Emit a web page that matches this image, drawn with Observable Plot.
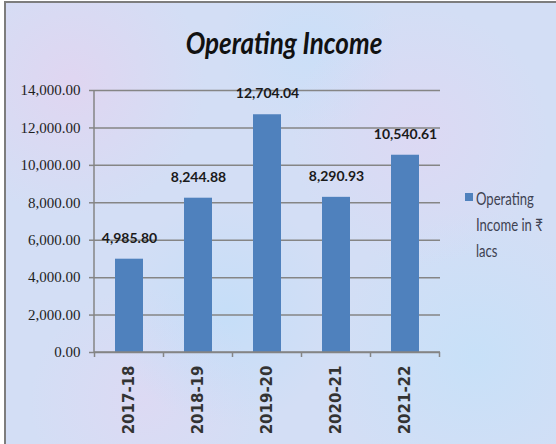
<!DOCTYPE html>
<html>
<head>
<meta charset="utf-8">
<script src="https://cdn.jsdelivr.net/npm/d3@7"></script>
<script src="https://cdn.jsdelivr.net/npm/@observablehq/plot@0.6"></script>
<style>
  html, body { margin: 0; padding: 0; background: #ffffff; }
  #wrap {
    position: absolute; left: 4px; top: 1px; width: 552px; height: 443px;
    border-top: 2px solid #7d7d7d; border-left: 2px solid #7d7d7d;
    background-color: #d3def5;
    background-image:
      radial-gradient(circle at 12% 18%, rgba(232,208,238,0.6) 0, rgba(232,208,238,0) 22%),
      radial-gradient(circle at 40% 70%, rgba(188,222,250,0.6) 0, rgba(188,222,250,0) 25%),
      radial-gradient(circle at 75% 30%, rgba(228,212,242,0.55) 0, rgba(228,212,242,0) 25%),
      radial-gradient(circle at 85% 80%, rgba(192,226,250,0.6) 0, rgba(192,226,250,0) 25%),
      radial-gradient(circle at 25% 90%, rgba(228,214,242,0.55) 0, rgba(228,214,242,0) 20%),
      radial-gradient(circle at 55% 10%, rgba(196,224,250,0.55) 0, rgba(196,224,250,0) 18%);
    overflow: hidden;
  }
  #chart { position: absolute; left: -6px; top: -3px; }
  #title {
    position: absolute; left: 278px; top: 24px; white-space: nowrap;
    font-family: Lato, sans-serif; font-weight: bold; font-style: italic;
    font-size: 31px; color: #111; line-height: 1;
    transform: translateX(-50%) scaleX(0.84);
  }
  #legend {
    position: absolute; left: 459px; top: 183px; white-space: nowrap;
    font-family: Lato, sans-serif; font-size: 17px; color: #3e4252; line-height: 26px;
  }
  #legend .sw { position: absolute; left: 0; top: 7px; width: 8px; height: 8px; background: #4f81bd; }
  #legend .tx { margin-left: 11px; transform: scaleX(0.77); transform-origin: 0 0; }
</style>
</head>
<body>
<div id="wrap">
  <div id="title">Operating Income</div>
  <div id="chart"></div>
  <div id="legend"><div class="sw"></div><div class="tx">Operating<br>Income in ₹<br>lacs</div></div>
</div>
<script>
const categories = ["2017-18", "2018-19", "2019-20", "2020-21", "2021-22"];
const values = [4985.80, 8244.88, 12704.04, 8290.93, 10540.61];
const yTicks = [0, 2000, 4000, 6000, 8000, 10000, 12000, 14000];
const seriesName = "Operating Income in ₹ lacs";

const data = categories.map((c, i) => ({year: c, value: values[i]}));
const fmt = d3.format(",.2f");
const axisColor = "#858585";

function frameLines(index, scales, values, dims) {
  const g = d3.create("svg:g").attr("stroke", axisColor).attr("stroke-width", 1.5);
  const x = scales.x;
  const step = x.step ? x.step() : (dims.width - dims.marginLeft - dims.marginRight) / categories.length;
  const left = dims.marginLeft, right = dims.width - dims.marginRight;
  const bottom = dims.height - dims.marginBottom, top = dims.marginTop;
  g.append("line").attr("x1", left).attr("x2", left).attr("y1", top).attr("y2", bottom);
  g.append("line").attr("x1", left).attr("x2", right).attr("y1", bottom).attr("y2", bottom);
  const bounds = categories.map(c => x(c) + x.bandwidth() / 2 - step / 2);
  bounds.push(x(categories[categories.length - 1]) + x.bandwidth() / 2 + step / 2);
  for (const b of bounds) {
    g.append("line").attr("x1", b).attr("x2", b).attr("y1", bottom).attr("y2", bottom + 5);
  }
  return g.node();
}

const chart = Plot.plot({
  width: 556,
  height: 444,
  marginLeft: 94,
  marginRight: 116,
  marginTop: 90,
  marginBottom: 92,
  style: {background: "transparent", overflow: "visible"},
  x: {domain: categories, paddingInner: 0.6, paddingOuter: 0.3, label: null},
  y: {domain: [0, 14000], label: null},
  marks: [
    Plot.gridY(yTicks, {stroke: axisColor, strokeOpacity: 1, strokeWidth: 1.5}),
    Plot.axisY(yTicks, {
      tickSize: 5, tickPadding: 9, stroke: axisColor, strokeWidth: 1.5,
      tickFormat: fmt, fontSize: 15, fontFamily: "Liberation Serif", fill: "#1e1e1e", label: null
    }),
    Plot.barY(data, {x: "year", y: "value", fill: "#4f81bd"}),
    frameLines,
    Plot.text(data, {
      x: "year", y: "value", text: d => fmt(d.value), dy: -21,
      fontSize: 14, fontWeight: "bold", fontFamily: "Lato", fill: "#1a1a1a"
    }),
    Plot.axisX({
      tickSize: 0, tickPadding: 13, tickRotate: -90,
      fontSize: 15, fontWeight: "bold", fontFamily: "DejaVu Sans", fill: "#333333", label: null
    })
  ]
});
document.getElementById("chart").appendChild(chart);
</script>
</body>
</html>
